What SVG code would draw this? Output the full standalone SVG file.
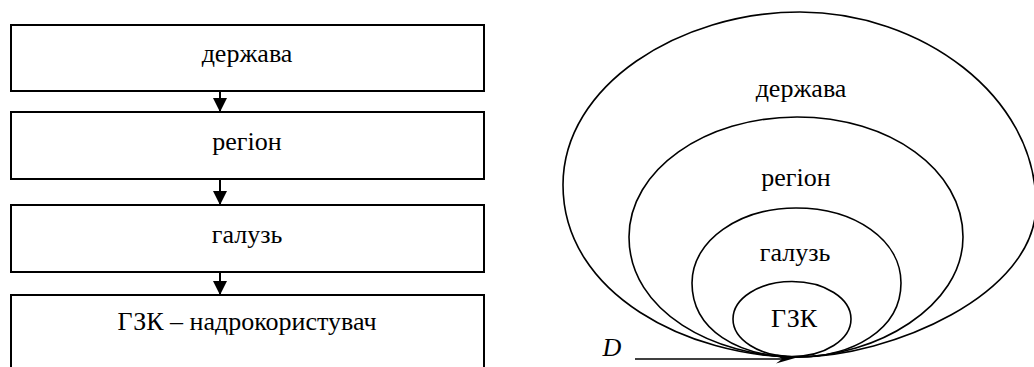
<svg xmlns="http://www.w3.org/2000/svg" width="1034" height="367" viewBox="0 0 1034 367">
<defs>
<style>
.box{fill:#fff;stroke:#000;stroke-width:2}
.t{font-family:"Liberation Serif","Times New Roman","DejaVu Serif",serif;font-size:26px;fill:#000;text-anchor:middle}
.ov{fill:none;stroke:#000;stroke-width:1.6}
.ln{stroke:#000;stroke-width:2;fill:none}
</style>
<marker id="ah" viewBox="0 0 14 14" refX="14" refY="7" markerWidth="14" markerHeight="14" markerUnits="userSpaceOnUse" orient="auto">
<path d="M0,0 L14,7 L0,14 Z" fill="#000"/>
</marker>
</defs>
<rect width="1034" height="367" fill="#fff"/>
<g id="box-derzhava"><rect class="box" x="11" y="25" width="473" height="66"/><text class="t" font-family="Liberation Serif, serif" x="247" y="62">держава</text></g>
<g id="box-region"><rect class="box" x="11" y="112" width="473" height="67"/><text class="t" font-family="Liberation Serif, serif" x="247" y="150">регіон</text></g>
<g id="box-haluz"><rect class="box" x="11" y="205" width="473" height="67"/><text class="t" font-family="Liberation Serif, serif" x="247" y="243">галузь</text></g>
<g id="box-gzk"><rect class="box" x="11" y="295" width="473" height="90"/><text class="t" font-family="Liberation Serif, serif" x="247" y="330">ГЗК – надрокористувач</text></g>
<g id="connectors">
<line class="ln" x1="220" y1="91" x2="220" y2="112" marker-end="url(#ah)"/>
<line class="ln" x1="220" y1="179" x2="220" y2="205" marker-end="url(#ah)"/>
<line class="ln" x1="220" y1="272" x2="220" y2="295" marker-end="url(#ah)"/>
<line x1="635" y1="359" x2="782" y2="359" stroke="#000" stroke-width="1.3"/>
<path d="M797,357.5 L776,354.5 L782,359 L776,363.5 Z" fill="#000"/>
</g>
<g id="oval-derzhava"><path class="ov" d="M797,357 C690,357 563,295 563,185 C563,85 680,12 800,12 C920,12 1036,95 1036,205 C1036,295 890,357 797,357 Z"/><text class="t" font-family="Liberation Serif, serif" x="801" y="97">держава</text></g>
<g id="oval-region"><path class="ov" d="M797,357 C715,357 629,312 629,237 C629,170 705,117 797,117 C890,117 963,170 963,237 C963,307 875,357 797,357 Z"/><text class="t" font-family="Liberation Serif, serif" x="796" y="186">регіон</text></g>
<g id="oval-haluz"><path class="ov" d="M797,357 C738,357 692,330 692,283 C692,240 740,208 796,208 C855,208 901,240 901,283 C901,330 852,357 797,357 Z"/><text class="t" font-family="Liberation Serif, serif" x="795" y="261">галузь</text></g>
<g id="oval-gzk"><ellipse class="ov" cx="792" cy="319" rx="59" ry="37.5"/><text class="t" font-family="Liberation Serif, serif" x="794" y="327">ГЗК</text></g>
<text class="t" font-family="Liberation Serif, serif" x="612" y="356" font-style="italic">D</text>
</svg>
